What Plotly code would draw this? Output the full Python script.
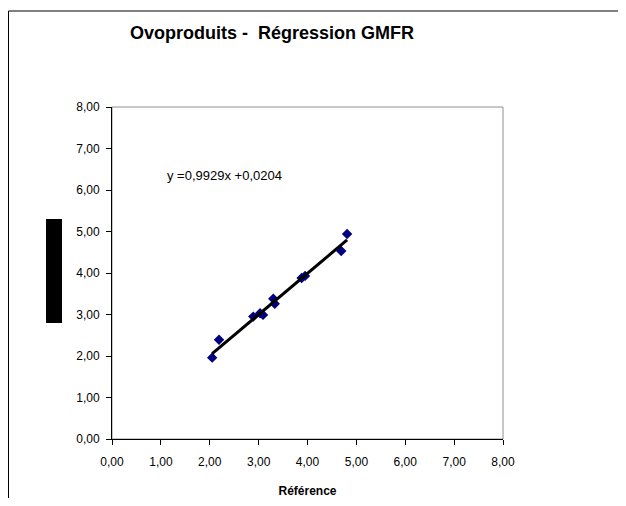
import plotly.graph_objects as go

reference = [2.05, 2.19, 2.89, 3.03, 3.09, 3.30, 3.33, 3.88, 3.95, 4.69, 4.81]
measured = [1.96, 2.39, 2.95, 3.03, 2.99, 3.38, 3.26, 3.88, 3.93, 4.53, 4.94]
slope = 0.9929
intercept = 0.0204
ticks = [0, 1, 2, 3, 4, 5, 6, 7, 8]
title_text = "Ovoproduits -  Régression GMFR"
x_title = "Référence"
equation = "y =0,9929x +0,0204"

x_line = [min(reference), max(reference)]
y_line = [slope * v + intercept for v in x_line]

# page body has an 8px margin; work in screen coordinates and subtract it
OFF = 8
W, H = 618, 490
L, T = 112 - OFF, 107 - OFF
pw, ph = 391, 332
R, B = W - L - pw, H - T - ph

def px(x):
    return (x - OFF - L) / pw

def py(y):
    return (H - B - (y - OFF)) / ph

fig = go.Figure()
fig.add_trace(go.Scatter(x=reference, y=measured, mode="markers",
                         marker=dict(symbol="diamond", size=8, color="#000080"),
                         showlegend=False, hoverinfo="x+y"))
fig.add_trace(go.Scatter(x=x_line, y=y_line, mode="lines",
                         line=dict(color="black", width=3),
                         showlegend=False, hoverinfo="skip"))

axis_common = dict(range=[0, 8], tickvals=ticks, tickformat=".2f",
                   showgrid=False, zeroline=False, showline=True, automargin=False,
                   linecolor="black", linewidth=1, ticks="outside",
                   ticklen=5, tickcolor="black",
                   tickfont=dict(family="Liberation Sans, Arial", size=12, color="#000"))

fig.update_layout(
    width=W, height=H,
    margin=dict(l=L, r=R, t=T, b=B, autoexpand=False),
    paper_bgcolor="white", plot_bgcolor="white",
    separators=", ",
    xaxis=dict(**axis_common, ticklabelstandoff=7,
               title=dict(text="<b>" + x_title + "</b>", standoff=20,
                          font=dict(family="Liberation Sans, Arial", size=12, color="#000"))),
    yaxis=dict(**axis_common, ticklabelstandoff=4),
    shapes=[
        dict(type="rect", xref="paper", yref="paper", x0=0, y0=0, x1=1, y1=1,
             line=dict(color="#909090", width=1), layer="below"),
        dict(type="rect", xref="paper", yref="paper",
             x0=px(8.5), y0=py(H + 60), x1=px(W + 60), y1=py(11),
             line=dict(color="black", width=1), layer="below"),
        dict(type="rect", xref="paper", yref="paper",
             x0=px(46), y0=py(323), x1=px(62), y1=py(219),
             fillcolor="black", line=dict(width=0), layer="above"),
    ],
    annotations=[
        dict(text="<b>" + title_text + "</b>", xref="paper", yref="paper",
             x=px(272), y=py(33), xanchor="center", yanchor="middle", showarrow=False,
             font=dict(family="Liberation Sans, Arial", size=18, color="#000")),
        dict(text=equation, xref="x", yref="y", x=1.08, y=6.36,
             xanchor="left", yanchor="middle", showarrow=False,
             font=dict(family="Liberation Sans, Arial", size=13, color="#000")),
    ],
)

fig.write_html("out.html")
